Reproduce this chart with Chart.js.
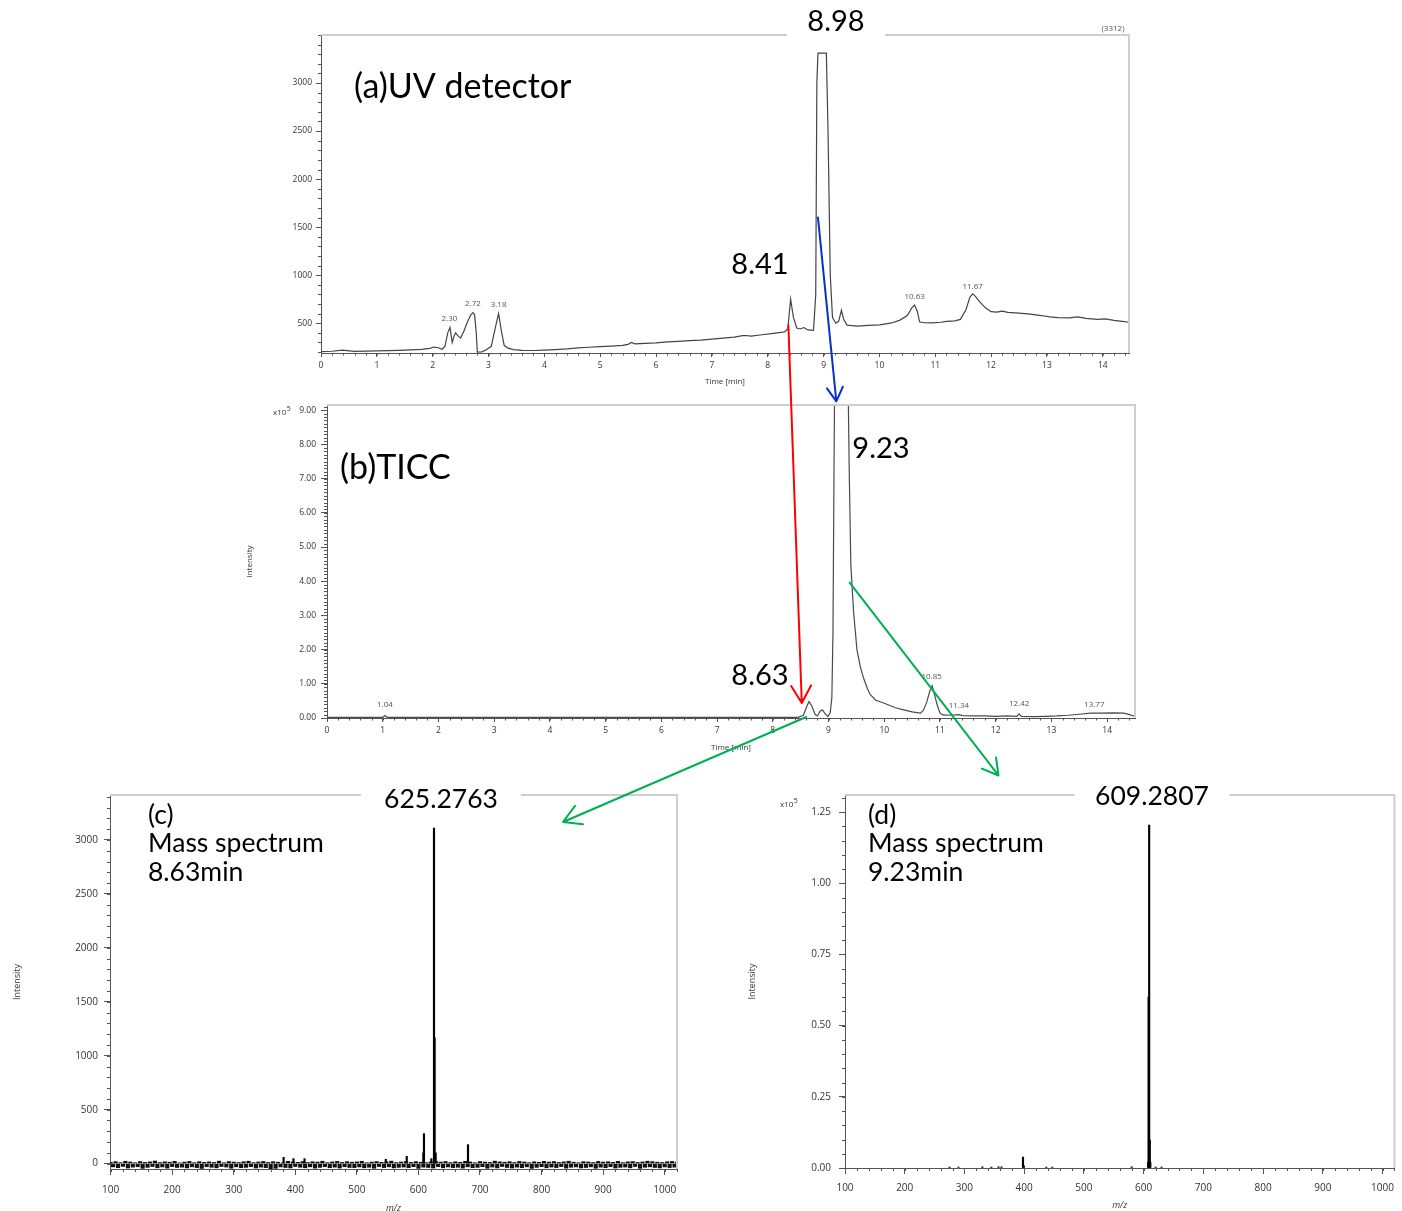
<!DOCTYPE html>
<html>
<head>
<meta charset="utf-8">
<script src="https://cdn.jsdelivr.net/npm/chart.js@4.4.0/dist/chart.umd.min.js"></script>
<style>
  body { margin: 0; background: #fff; }
  #page { position: relative; width: 1402px; height: 1211px; overflow: hidden; }
  canvas { position: absolute; }
  #uv { left: 240px; top: 0px; }
  #ticc { left: 240px; top: 395px; }
  #msC { left: 0px; top: 780px; }
  #msD { left: 740px; top: 780px; }
  #arrows { left: 0; top: 0; pointer-events: none; }
</style>
</head>
<body>
<div id="page">
  <canvas id="uv" width="920" height="400"></canvas>
  <canvas id="ticc" width="920" height="370"></canvas>
  <canvas id="msC" width="700" height="440"></canvas>
  <canvas id="msD" width="662" height="440"></canvas>
  <canvas id="arrows" width="1402" height="1211"></canvas>
</div>
<script>
/* (a) UV detector trace */
var uvTime = [0.00, 0.20, 0.38, 0.60, 0.80, 1.00, 1.20, 1.40, 1.60, 1.80, 1.95, 2.02, 2.10, 2.17, 2.22, 2.27, 2.31, 2.35, 2.38, 2.41, 2.45, 2.50, 2.56, 2.62, 2.68, 2.72, 2.75, 2.78, 2.80, 2.88, 2.95, 3.05, 3.12, 3.18, 3.23, 3.28, 3.35, 3.45, 3.60, 3.80, 4.00, 4.20, 4.40, 4.60, 4.80, 5.00, 5.20, 5.40, 5.50, 5.56, 5.62, 5.80, 6.00, 6.20, 6.40, 6.60, 6.80, 7.00, 7.20, 7.40, 7.55, 7.62, 7.70, 7.90, 8.10, 8.30, 8.36, 8.41, 8.46, 8.52, 8.58, 8.65, 8.72, 8.82, 8.86, 8.88, 8.90, 9.05, 9.08, 9.12, 9.16, 9.22, 9.27, 9.32, 9.36, 9.42, 9.60, 9.80, 10.00, 10.20, 10.36, 10.50, 10.58, 10.63, 10.68, 10.72, 10.80, 10.95, 11.10, 11.20, 11.35, 11.45, 11.55, 11.62, 11.67, 11.72, 11.80, 11.90, 12.00, 12.10, 12.20, 12.30, 12.50, 12.70, 12.90, 13.05, 13.20, 13.40, 13.55, 13.70, 13.90, 14.05, 14.20, 14.35, 14.47];
var uvSignal = [205, 208, 219, 207, 210, 212, 214, 218, 222, 228, 238, 252, 245, 229, 260, 400, 455, 300, 360, 400, 370, 345, 420, 510, 585, 610, 590, 400, 200, 202, 222, 260, 450, 600, 420, 270, 240, 225, 218, 216, 220, 225, 232, 244, 250, 256, 262, 270, 280, 300, 285, 290, 296, 305, 312, 318, 325, 335, 345, 355, 370, 372, 365, 380, 395, 410, 440, 750, 560, 450, 440, 455, 430, 425, 800, 3000, 3312, 3312, 2500, 1000, 560, 500, 520, 635, 540, 480, 470, 478, 482, 500, 530, 580, 660, 690, 620, 515, 505, 503, 510, 520, 525, 540, 640, 770, 805, 780, 720, 660, 620, 615, 625, 612, 605, 595, 580, 566, 558, 555, 565, 550, 540, 545, 530, 520, 510];
var uvPeakTimes = [2.30, 2.72, 3.18, 10.63, 11.67];
var uvPeakLabelY = [552, 708, 688, 781, 885];

/* (b) TICC trace, x10^5 */
var ticTime = [0, 0.5, 1.00, 1.04, 1.08, 2, 3, 4, 5, 6, 7, 8, 8.45, 8.55, 8.60, 8.65, 8.70, 8.76, 8.80, 8.85, 8.89, 8.94, 8.99, 9.03, 9.06, 9.08, 9.10, 9.13, 9.20, 9.30, 9.35, 9.37, 9.40, 9.45, 9.51, 9.57, 9.63, 9.70, 9.75, 9.85, 10.00, 10.20, 10.35, 10.50, 10.65, 10.70, 10.76, 10.82, 10.86, 10.90, 10.95, 11.00, 11.05, 11.20, 11.34, 11.40, 11.60, 11.80, 12.00, 12.20, 12.38, 12.42, 12.46, 12.70, 12.90, 13.10, 13.30, 13.50, 13.70, 13.90, 14.10, 14.30, 14.40, 14.50];
var ticSignal = [0.02, 0.02, 0.02, 0.07, 0.02, 0.02, 0.02, 0.02, 0.02, 0.02, 0.02, 0.02, 0.02, 0.08, 0.30, 0.48, 0.35, 0.10, 0.06, 0.20, 0.24, 0.12, 0.05, 0.15, 0.6, 2.5, 7.6, 14, 25, 18, 10, 7.4, 4.5, 3.1, 2.0, 1.5, 1.16, 0.85, 0.68, 0.52, 0.43, 0.30, 0.24, 0.18, 0.14, 0.22, 0.45, 0.80, 0.94, 0.70, 0.38, 0.15, 0.09, 0.08, 0.10, 0.07, 0.06, 0.06, 0.05, 0.06, 0.05, 0.12, 0.05, 0.04, 0.05, 0.06, 0.08, 0.11, 0.14, 0.14, 0.15, 0.14, 0.10, 0.05];
var ticPeakTimes = [1.04, 10.85, 11.34, 12.42, 13.77];
var ticPeakLabelY = [0.376, 1.215, 0.347, 0.405, 0.376];

/* (c) mass spectrum at 8.63 min */
var msCmz = [381, 397, 415, 547, 581, 608, 609, 621, 625.28, 626.28, 628, 680.5];
var msCint = [58, 46, 46, 40, 68, 100, 278, 46, 3111, 1167, 100, 176];
var noiseStart = 100, noiseStep = 4;
var msCnoise = [
  12,-30,18,-38,9,-26,22,-41,15,-33,8,-29,19,-44,11,-35,16,-27,24,-39,
  10,-31,17,-42,13,-28,21,-36,7,-33,14,-40,20,-30,9,-37,18,-45,12,-29,
  16,-34,11,-39,23,-27,8,-32,19,-43,14,-30,10,-38,17,-35,22,-28,9,-41,
  15,-33,20,-37,11,-62,18,-44,13,-31,7,-36,21,-40,16,-27,12,-34,19,-39,
  10,-30,17,-42,14,-35,22,-28,9,-38,15,-33,20,-41,11,-29,18,-36,13,-37,
  16,-31,21,-39,8,-34,14,-43,19,-27,12,-37,17,-30,23,-40,10,-35,15,-32,
  20,-38,11,-29,18,-44,13,-33,9,-36,16,-41,22,-28,14,-39,19,-31,10,-37,
  17,-34,12,-42,21,-30,15,-38,8,-35,19,-29,14,-43,11,-32,23,-40,16,-27,
  13,-36,18,-41,10,-33,20,-38,15,-30,9,-44,17,-35,12,-29,21,-39,14,-32,
  19,-37,11,-28,16,-42,22,-34,13,-31,8,-40,18,-36,15,-30,10,-43,20,-33,
  14,-38,17,-29,12,-41,21,-35,9,-32,16,-39,19,-27,11,-44,15,-34,22,-30,
  18,-36,13,-40,10,-31,17,-37,20,-33,14,-42,11,-28,19,-39,16,-35,12,-31
];

/* (d) mass spectrum at 9.23 min, x10^5 */
var msDmz = [275, 290, 330, 345, 357, 362, 398, 399.5, 437, 447, 580, 607.5, 608.3, 609.28, 610.3, 611.2, 620, 630];
var msDint = [0.003, 0.003, 0.004, 0.003, 0.004, 0.004, 0.038, 0.008, 0.003, 0.003, 0.004, 0.02, 0.60, 1.204, 0.098, 0.02, 0.003, 0.003];

var tickFont = "'Open Sans', 'DejaVu Sans', sans-serif";
var bigFont = "Lato, 'Open Sans', sans-serif";

function pts(xs, ys) {
  return xs.map(function (x, i) { return { x: x, y: ys[i] }; });
}

var decor = {
  id: 'decor',
  afterDraw: function (chart, args, opts) {
    var ctx = chart.ctx, a = chart.chartArea;
    ctx.save();
    ctx.strokeStyle = '#cfcfcf';
    ctx.lineWidth = 2;
    ctx.beginPath();
    ctx.moveTo(a.left, a.top);
    ctx.lineTo(a.right, a.top);
    ctx.lineTo(a.right, a.bottom);
    ctx.stroke();

    ['x', 'y'].forEach(function (id) {
      var m = opts.minor && opts.minor[id];
      if (!m) return;
      var s = chart.scales[id];
      ctx.strokeStyle = '#555';
      ctx.lineWidth = 1;
      ctx.beginPath();
      var first = Math.ceil(s.min / m.step - 1e-9);
      for (var i = first; i * m.step <= s.max + 1e-9; i++) {
        var p = Math.round(s.getPixelForValue(i * m.step)) + 0.5;
        if (id === 'x') { ctx.moveTo(p, a.bottom); ctx.lineTo(p, a.bottom + m.len); }
        else { ctx.moveTo(a.left, p); ctx.lineTo(a.left - m.len, p); }
      }
      ctx.stroke();
    });

    (opts.labels || []).forEach(function (l) {
      var px, py;
      if (l.x !== undefined) {
        px = chart.scales.x.getPixelForValue(l.x);
        py = chart.scales.y.getPixelForValue(l.y);
      } else {
        px = a.left + l.ax;
        py = a.top + l.ay;
      }
      ctx.font = l.font;
      if (l.boxW) {
        ctx.fillStyle = '#fff';
        ctx.fillRect(px - l.boxW / 2, py - l.boxH / 2, l.boxW, l.boxH);
      }
      ctx.fillStyle = l.color || '#000';
      ctx.textAlign = l.align || 'center';
      ctx.textBaseline = 'middle';
      ctx.fillText(l.text, px, py);
      if (l.sup) {
        var w = ctx.measureText(l.text).width;
        ctx.font = l.supFont;
        ctx.textAlign = 'left';
        ctx.fillText(l.sup, px + w + 0.5, py - 4);
      }
    });
    ctx.restore();
  }
};

function axis(o) {
  return {
    type: 'linear',
    min: o.min,
    max: o.max,
    offset: false,
    border: { display: true, color: '#555', width: 1 },
    grid: { display: true, drawOnChartArea: false, drawTicks: true, tickLength: o.tickLength, color: '#555', offset: false },
    ticks: {
      padding: o.padding,
      color: '#333',
      font: { family: tickFont, size: o.fontSize },
      maxRotation: 0,
      autoSkip: false,
      callback: o.fmt
    },
    title: o.title ? {
      display: true,
      text: o.title,
      color: '#333',
      font: { family: tickFont, size: o.titleSize, style: o.titleStyle || 'normal' },
      padding: o.titlePad
    } : { display: false },
    afterBuildTicks: function (s) { s.ticks = o.ticks.map(function (v) { return { value: v }; }); },
    afterFit: function (s) { if (o.width) s.width = o.width; if (o.height) s.height = o.height; }
  };
}

function baseOptions(pad, x, y, deco) {
  return {
    responsive: false,
    animation: false,
    devicePixelRatio: 1,
    layout: { padding: pad },
    plugins: { legend: { display: false }, tooltip: { enabled: false }, decor: deco },
    scales: { x: x, y: y }
  };
}

var int0 = function (v) { return String(v); };
var fix2 = function (v) { return v.toFixed(2); };

/* (a) UV detector */
var uvLabels = [
  { ax: 33, ay: 52, text: '(a)UV detector', font: '34px ' + bigFont, align: 'left' },
  { ax: 515, ay: -13, text: '8.98', font: '29px ' + bigFont, boxW: 98, boxH: 32 },
  { ax: 439, ay: 230, text: '8.41', font: '29px ' + bigFont },
  { ax: 792, ay: -6, text: '(3312)', font: '8px ' + tickFont, color: '#555' }
];
uvPeakTimes.forEach(function (t, i) {
  uvLabels.push({ x: t, y: uvPeakLabelY[i], text: t.toFixed(2), font: '8px ' + tickFont, color: '#555' });
});
var chartA = new Chart(document.getElementById('uv'), {
  type: 'line',
  data: { datasets: [{ data: pts(uvTime, uvSignal), borderColor: '#444', borderWidth: 1.2, pointRadius: 0, tension: 0 }] },
  options: baseOptions({ left: 0, right: 31, top: 35, bottom: 0 },
    axis({ min: 0, max: 14.47, ticks: [0,1,2,3,4,5,6,7,8,9,10,11,12,13,14], tickLength: 4, padding: 3, fontSize: 8.5, fmt: int0, height: 47,
      title: 'Time [min]', titleSize: 8, titlePad: { top: 0, bottom: 13.2 } }),
    axis({ min: 190, max: 3500, ticks: [500,1000,1500,2000,2500,3000], tickLength: 5, padding: 4, fontSize: 8.5, fmt: int0, width: 81 }),
    { minor: { x: { step: 0.2, len: 2.5 }, y: { step: 100, len: 3 } }, labels: uvLabels })
});

/* (b) TICC */
var ticLabels = [
  { ax: 13, ay: 63, text: '(b)TICC', font: '34px ' + bigFont, align: 'left' },
  { ax: 554, ay: 44, text: '9.23', font: '29px ' + bigFont },
  { ax: 433, ay: 271, text: '8.63', font: '29px ' + bigFont },
  { ax: -54, ay: 8, text: 'x10', sup: '5', font: '8px ' + tickFont, supFont: '7px ' + tickFont, color: '#333', align: 'left' }
];
ticPeakTimes.forEach(function (t, i) {
  ticLabels.push({ x: t, y: ticPeakLabelY[i], text: t.toFixed(2), font: '8px ' + tickFont, color: '#555' });
});
var chartB = new Chart(document.getElementById('ticc'), {
  type: 'line',
  data: { datasets: [{ data: pts(ticTime, ticSignal), borderColor: '#4a4a4a', borderWidth: 1.2, pointRadius: 0, tension: 0 }] },
  options: baseOptions({ left: 0, right: 25, top: 7, bottom: 0 },
    axis({ min: 0, max: 14.5, ticks: [0,1,2,3,4,5,6,7,8,9,10,11,12,13,14], tickLength: 4, padding: 3, fontSize: 8.5, fmt: int0, height: 47,
      title: 'Time [min]', titleSize: 8, titlePad: { top: 0, bottom: 12.2 } }),
    axis({ min: 0, max: 9.15, ticks: [0,1,2,3,4,5,6,7,8,9], tickLength: 6, padding: 5, fontSize: 8.5, fmt: fix2, width: 87,
      title: 'Intensity', titleSize: 8, titlePad: { top: 5.2, bottom: 0 } }),
    { minor: { x: { step: 0.2, len: 2.5 }, y: { step: 0.1, len: 3 } }, labels: ticLabels })
});

/* (c) mass spectrum 8.63 min */
var chartC = new Chart(document.getElementById('msC'), {
  type: 'bar',
  data: {
    datasets: [
      { type: 'bar', data: msCnoise.map(function (v, i) { return { x: noiseStart + noiseStep * i, y: v }; }),
        backgroundColor: '#111', barThickness: 3.5, grouped: false },
      { type: 'bar', data: pts(msCmz, msCint), backgroundColor: '#000', barThickness: 1.5, grouped: false }
    ]
  },
  options: baseOptions({ left: 0, right: 23, top: 15, bottom: 0 },
    axis({ min: 99, max: 1020, ticks: [100,200,300,400,500,600,700,800,900,1000], tickLength: 6, padding: 9, fontSize: 10, fmt: int0, height: 51,
      title: 'm/z', titleSize: 9, titleStyle: 'italic', titlePad: { top: 0, bottom: 6.6 } }),
    axis({ min: -50, max: 3417, ticks: [0,500,1000,1500,2000,2500,3000], tickLength: 6, padding: 6, fontSize: 10, fmt: int0, width: 110,
      title: 'Intensity', titleSize: 9, titlePad: { top: 11.6, bottom: 0 } }),
    { minor: { x: { step: 20, len: 3 }, y: { step: 100, len: 3 } }, labels: [
      { ax: 38, ay: 20, text: '(c)', font: '26.5px ' + bigFont, align: 'left' },
      { ax: 38, ay: 48, text: 'Mass spectrum', font: '26.5px ' + bigFont, align: 'left' },
      { ax: 38, ay: 77, text: '8.63min', font: '26.5px ' + bigFont, align: 'left' },
      { ax: 331, ay: 4, text: '625.2763', font: '26.5px ' + bigFont, boxW: 160, boxH: 28 }
    ] })
});

/* (d) mass spectrum 9.23 min */
var chartD = new Chart(document.getElementById('msD'), {
  type: 'bar',
  data: {
    datasets: [
      { type: 'bar', data: pts(msDmz, msDint), backgroundColor: '#000', barThickness: 1.5, grouped: false }
    ]
  },
  options: baseOptions({ left: 0, right: 2, top: 15, bottom: 0 },
    axis({ min: 100, max: 1020, ticks: [100,200,300,400,500,600,700,800,900,1000], tickLength: 6, padding: 8, fontSize: 10, fmt: int0, height: 52,
      title: 'm/z', titleSize: 9, titleStyle: 'italic', titlePad: { top: 0, bottom: 9.6 } }),
    axis({ min: 0, max: 1.31, ticks: [0,0.25,0.5,0.75,1,1.25], tickLength: 6, padding: 8, fontSize: 10, fmt: fix2, width: 105,
      title: 'Intensity', titleSize: 9, titlePad: { top: 6.6, bottom: 0 } }),
    { minor: { x: { step: 20, len: 3 }, y: { step: 0.05, len: 3 } }, labels: [
      { ax: 23, ay: 20, text: '(d)', font: '26.5px ' + bigFont, align: 'left' },
      { ax: 23, ay: 48, text: 'Mass spectrum', font: '26.5px ' + bigFont, align: 'left' },
      { ax: 23, ay: 77, text: '9.23min', font: '26.5px ' + bigFont, align: 'left' },
      { ax: 307, ay: 1, text: '609.2807', font: '26.5px ' + bigFont, boxW: 155, boxH: 28 },
      { ax: -65, ay: 10, text: 'x10', sup: '5', font: '8px ' + tickFont, supFont: '7px ' + tickFont, color: '#333', align: 'left' }
    ] })
});

/* arrows linking peaks between panels */
var arrows = [
  { color: '#ff0000', from: [chartA, 8.37, 480], to: [chartB, 8.52, 0.44], head: 20 },
  { color: '#0a30c8', from: [chartA, 8.90, 1600], to: [chartB, 9.14, 9.26], head: 16 },
  { color: '#00b050', from: [chartB, 9.38, 3.96], to: [chartB, 12.05, -1.68], head: 18 },
  { color: '#00b050', from: [chartB, 8.60, 0.03], to: [chartC, 835, 3167], head: 20 }
];

function pagePoint(ref) {
  var c = ref[0], cv = c.canvas;
  return [cv.offsetLeft + c.scales.x.getPixelForValue(ref[1]), cv.offsetTop + c.scales.y.getPixelForValue(ref[2])];
}

function drawArrows() {
  var ctx = document.getElementById('arrows').getContext('2d');
  ctx.clearRect(0, 0, 1402, 1211);
  arrows.forEach(function (ar) {
    var p0 = pagePoint(ar.from), p1 = pagePoint(ar.to);
    var ang = Math.atan2(p1[1] - p0[1], p1[0] - p0[0]);
    ctx.strokeStyle = ar.color;
    ctx.lineWidth = 2;
    ctx.lineCap = 'round';
    ctx.beginPath();
    ctx.moveTo(p0[0], p0[1]);
    ctx.lineTo(p1[0], p1[1]);
    [-1, 1].forEach(function (sgn) {
      var a = ang + Math.PI + sgn * Math.PI / 6;
      ctx.moveTo(p1[0], p1[1]);
      ctx.lineTo(p1[0] + ar.head * Math.cos(a), p1[1] + ar.head * Math.sin(a));
    });
    ctx.stroke();
  });
}

Chart.register(decor);
chartA.update(); chartB.update(); chartC.update(); chartD.update();
drawArrows();
</script>
</body>
</html>
